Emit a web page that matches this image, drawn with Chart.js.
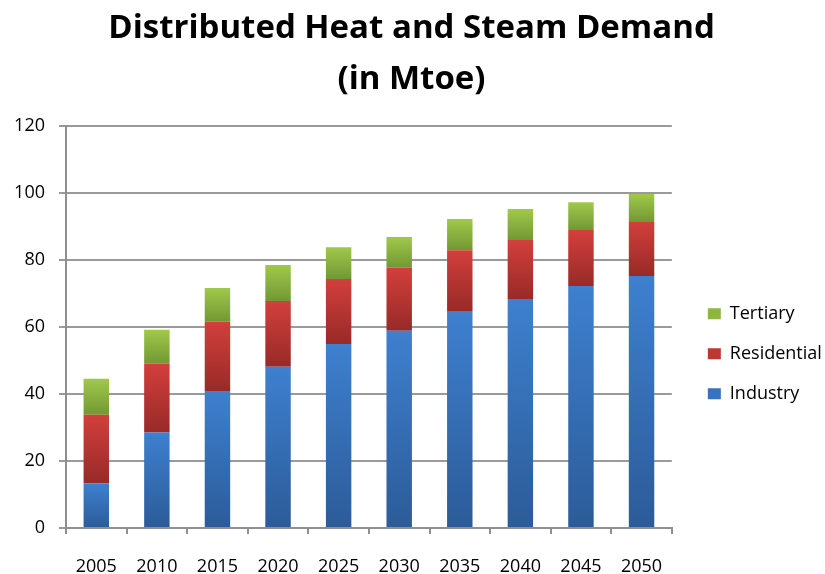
<!DOCTYPE html>
<html>
<head>
<meta charset="utf-8">
<script src="https://cdn.jsdelivr.net/npm/chart.js@4.4.1/dist/chart.umd.min.js"></script>
<style>
  html, body { margin: 0; padding: 0; background: #fff; }
  #wrap { width: 825px; height: 574px; }
</style>
</head>
<body>
<div id="wrap"><canvas id="heat_chart" width="825" height="574"></canvas></div>
<script>
// Values (Mtoe), stacked bottom to top
var years = ['2005', '2010', '2015', '2020', '2025', '2030', '2035', '2040', '2045', '2050'];
var industry = [13.3, 28.5, 40.7, 48.2, 55.0, 58.9, 64.8, 68.4, 72.3, 75.3];
var residential = [20.5, 20.6, 20.9, 19.6, 19.4, 18.9, 18.2, 17.6, 16.7, 16.1];
var tertiary = [10.8, 10.1, 10.1, 10.8, 9.5, 9.1, 9.3, 9.3, 8.3, 8.4];
var yTicks = [0, 20, 40, 60, 80, 100, 120];

var series = [industry, residential, tertiary];
var fontFamily = '"Open Sans", "Liberation Sans", Arial, sans-serif';

// vertical gradient for each stacked segment, light on top, dark at the bottom
function segmentGradient(light, dark) {
    return function (context) {
        var chart = context.chart;
        var y = chart.scales.y;
        if (!y || context.dataIndex === undefined || context.type !== 'data') {
            return light;
        }
        var start = 0;
        for (var d = 0; d < context.datasetIndex; d++) {
            start += series[d][context.dataIndex];
        }
        var end = start + series[context.datasetIndex][context.dataIndex];
        var top = y.getPixelForValue(end);
        var bottom = y.getPixelForValue(start);
        if (!isFinite(top) || !isFinite(bottom) || top === bottom) {
            return light;
        }
        var g = chart.ctx.createLinearGradient(0, top, 0, bottom);
        g.addColorStop(0, light);
        g.addColorStop(1, dark);
        return g;
    };
}

var ctx = document.getElementById('heat_chart');
var heat_chart = new Chart(ctx, {
    type: 'bar',
    data: {
        labels: years,
        datasets: [{
            label: 'Industry',
            data: industry,
            backgroundColor: segmentGradient('#3e80cf', '#2c5b98'),
            categoryPercentage: 1,
            barPercentage: 0.42
        }, {
            label: 'Residential',
            data: residential,
            backgroundColor: segmentGradient('#d33f3c', '#982a28'),
            categoryPercentage: 1,
            barPercentage: 0.42
        }, {
            label: 'Tertiary',
            data: tertiary,
            backgroundColor: segmentGradient('#a0c94b', '#729833'),
            categoryPercentage: 1,
            barPercentage: 0.42
        }]
    },
    options: {
        responsive: false,
        animation: false,
        layout: {
            padding: { left: 0, right: 2, top: 3, bottom: 0 }
        },
        scales: {
            x: {
                stacked: true,
                grid: {
                    offset: true,
                    drawOnChartArea: false,
                    drawTicks: true,
                    tickLength: 6,
                    color: '#8f8f8f',
                    lineWidth: 2
                },
                border: { color: '#8f8f8f', width: 2 },
                ticks: {
                    color: '#000',
                    padding: 22,
                    font: { family: fontFamily, size: 18 }
                },
                afterFit: function (axis) { axis.height = 46; }
            },
            y: {
                stacked: true,
                min: 0,
                max: 120,
                afterBuildTicks: function (axis) {
                    axis.ticks = yTicks.map(function (v) { return { value: v }; });
                },
                grid: {
                    color: '#9a9a9a',
                    lineWidth: 2,
                    tickLength: 7
                },
                border: { color: '#8f8f8f', width: 2 },
                ticks: {
                    color: '#000',
                    padding: 14,
                    font: { family: fontFamily, size: 18 }
                },
                afterFit: function (axis) { axis.width = 66; }
            },
            // empty strip between the plot and the legend
            gap: {
                type: 'linear',
                position: 'right',
                display: true,
                grid: { display: false, drawTicks: false },
                border: { display: false },
                ticks: { display: false },
                afterFit: function (axis) { axis.width = 14; }
            }
        },
        plugins: {
            title: {
                display: true,
                text: ['Distributed Heat and Steam Demand', '(in Mtoe)'],
                color: '#000',
                font: { family: fontFamily, size: 33, weight: 'bold', lineHeight: 1.55 },
                padding: { top: 0, bottom: 21 }
            },
            legend: {
                position: 'right',
                reverse: true,
                title: {
                    display: true,
                    text: ' ',
                    font: { family: fontFamily, size: 18 },
                    padding: { top: 0, bottom: 109 }
                },
                labels: {
                    color: '#000',
                    boxWidth: 13,
                    boxHeight: 11,
                    padding: 22,
                    font: { family: fontFamily, size: 18 },
                    generateLabels: function (chart) {
                        var fills = ['#3672bd', '#bf3733', '#8db641'];
                        return chart.data.datasets.map(function (ds, i) {
                            return {
                                text: ds.label,
                                fillStyle: fills[i],
                                strokeStyle: fills[i],
                                lineWidth: 0,
                                fontColor: '#000',
                                hidden: false,
                                datasetIndex: i
                            };
                        });
                    }
                }
            },
            tooltip: { enabled: false }
        }
    }
});
</script>
</body>
</html>
